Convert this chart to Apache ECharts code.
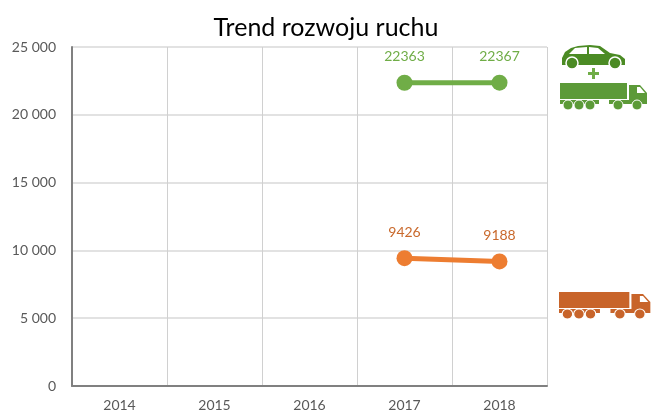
<!DOCTYPE html>
<html>
<head>
<meta charset="utf-8">
<style>
  html, body { margin: 0; padding: 0; background: #fff; }
  #chart { width: 651px; height: 414px; }
</style>
<script src="https://cdn.jsdelivr.net/npm/echarts@6/dist/echarts.min.js"></script>
</head>
<body>
<div id="chart"></div>
<script>
const years = ["2014", "2015", "2016", "2017", "2018"];
const allTraffic = [null, null, null, 22363, 22367];
const heavyTraffic = [null, null, null, 9426, 9188];

const FONT = "Lato, 'Open Sans', sans-serif";

function truck(x, y, color, scale) {
  const wheel = (cx) => ({
    type: "circle",
    shape: { cx, cy: 22, r: 5 },
    style: { fill: color, stroke: "#fff", lineWidth: 1 },
  });
  return {
    type: "group",
    x,
    y,
    scaleX: scale,
    children: [
      { type: "rect", shape: { x: 0, y: 0, width: 67, height: 16 }, style: { fill: color } },
      { type: "rect", shape: { x: 0, y: 17, width: 39, height: 4 }, style: { fill: color } },
      { type: "rect", shape: { x: 49, y: 17, width: 22, height: 4 }, style: { fill: color } },
      { type: "polygon", shape: { points: [[69, 2], [80, 2], [87, 10], [87, 21], [69, 21]] }, style: { fill: color } },
      { type: "polygon", shape: { points: [[77, 4], [80, 4], [85, 10], [77, 10]] }, style: { fill: "#fff" } },
      wheel(8), wheel(19), wheel(30), wheel(58), wheel(77),
    ],
  };
}

function car(x, y, color) {
  const wheel = (cx) => ({
    type: "circle",
    shape: { cx, cy: 18, r: 6 },
    style: { fill: color, stroke: "#fff", lineWidth: 1.5 },
  });
  const body = [[0, 20], [0, 13], [3, 7], [9, 3], [16, 1], [28, 0], [38, 1], [48, 8], [58, 10], [63, 14], [63, 20]];
  return {
    type: "group",
    x,
    y,
    children: [
      { type: "polygon", shape: { points: body }, style: { fill: color } },
      { type: "polygon", shape: { points: [[7, 9], [13, 3], [25, 2], [25, 9]] }, style: { fill: "#fff" } },
      { type: "polygon", shape: { points: [[27, 2], [36, 3], [43, 9], [27, 9]] }, style: { fill: "#fff" } },
      wheel(10), wheel(53),
    ],
  };
}

const chart = echarts.init(document.querySelector("#chart"));

chart.setOption({
  animation: false,
  title: {
    text: "Trend rozwoju ruchu",
    left: 321,
    top: 10,
    textAlign: "center",
    textStyle: { fontFamily: FONT, fontSize: 25, fontWeight: "normal", color: "#000" },
  },
  grid: { left: 72, right: 104, top: 47, bottom: 28 },
  xAxis: {
    type: "category",
    data: years,
    axisTick: { show: false },
    axisLine: { lineStyle: { color: "#808080", width: 2 } },
    axisLabel: { fontFamily: FONT, fontSize: 14, color: "#595959", margin: 12 },
    splitLine: { show: true, lineStyle: { color: "#d0d0d0", width: 1 } },
  },
  yAxis: {
    type: "value",
    min: 0,
    max: 25000,
    interval: 5000,
    axisLine: { show: true, lineStyle: { color: "#808080", width: 2 } },
    axisTick: { show: false },
    axisLabel: {
      fontFamily: FONT,
      fontSize: 14,
      color: "#595959",
      margin: 16,
      formatter: (value) => String(value).replace(/\B(?=(\d{3})+$)/g, " "),
    },
    splitLine: { show: true, lineStyle: { color: "#d9d9d9", width: 1.5 } },
  },
  series: [
    {
      type: "line",
      data: allTraffic,
      symbol: "circle",
      symbolSize: 16,
      lineStyle: { color: "#70ad47", width: 5 },
      itemStyle: { color: "#70ad47" },
      label: { show: true, position: "top", distance: 11, fontFamily: FONT, fontSize: 14, color: "#70ad47" },
    },
    {
      type: "line",
      data: heavyTraffic,
      symbol: "circle",
      symbolSize: 16,
      lineStyle: { color: "#ed7d31", width: 5 },
      itemStyle: { color: "#ed7d31" },
      label: { show: true, position: "top", distance: 11, fontFamily: FONT, fontSize: 14, color: "#c9692c" },
    },
  ],
  graphic: [
    car(562, 45, "#4b8b24"),
    { type: "rect", shape: { x: 588, y: 72, width: 11, height: 3 }, style: { fill: "#70ad47" } },
    { type: "rect", shape: { x: 592, y: 68, width: 3, height: 11 }, style: { fill: "#70ad47" } },
    truck(560, 83, "#5c9a38", 1),
    truck(559, 292, "#c8642a", 1.05),
  ],
});
</script>
</body>
</html>
